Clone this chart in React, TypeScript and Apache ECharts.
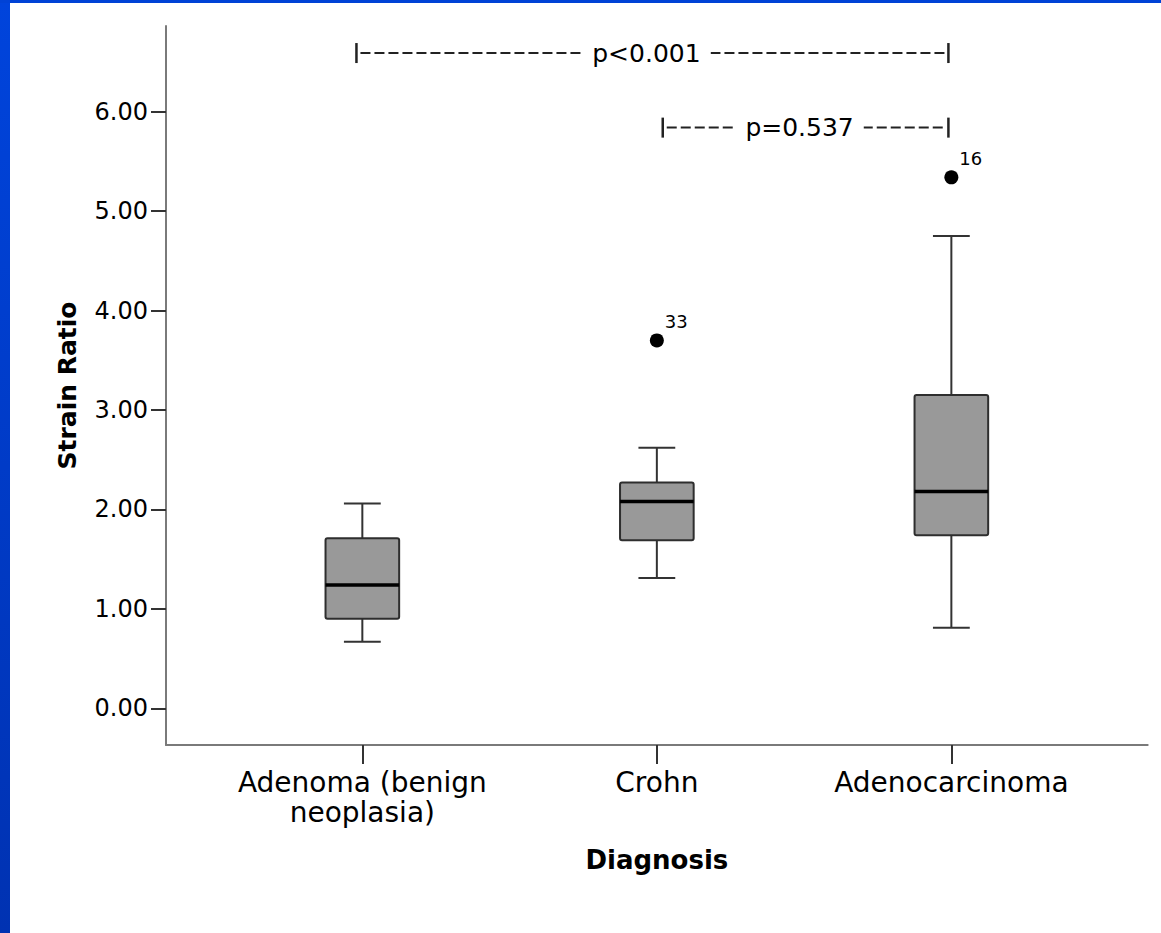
import React, { useEffect, useRef } from 'react';
import * as echarts from 'echarts';

// ---- data ----
const categories = ['Adenoma (benign\nneoplasia)', 'Crohn', 'Adenocarcinoma'];
const whiskerLow = [0.67, 1.31, 0.81];
const q1 = [0.9, 1.69, 1.74];
const median = [1.24, 2.08, 2.18];
const q3 = [1.71, 2.27, 3.15];
const whiskerHigh = [2.06, 2.62, 4.75];

const outlierCategory = [1, 2];
const outlierValue = [3.7, 5.34];
const outlierCase = ['33', '16'];

const yTicks = [0, 1, 2, 3, 4, 5, 6];
const xTicks = [0, 1, 2];

const comparisonFrom = [-0.02, 1.02];
const comparisonTo = [1.99, 1.99];
const comparisonLevel = [6.59, 5.84];
const comparisonLabel = ['p<0.001', 'p=0.537'];

const FONT = 'DejaVu Sans';

export default function App() {
  const ref = useRef<HTMLDivElement>(null);

  useEffect(() => {
    document.body.style.margin = '0';
    const chart = echarts.init(ref.current as HTMLDivElement, null, { renderer: 'svg' });

    const boxData = categories.map((_, i) => [i, whiskerLow[i], q1[i], median[i], q3[i], whiskerHigh[i]]);
    const bracketData = comparisonLabel.map((_, i) => [comparisonFrom[i], comparisonTo[i], comparisonLevel[i], i]);
    const outlierData = outlierCategory.map((c, i) => [c, outlierValue[i], outlierCase[i]]);

    const option: any = {
      animation: false,
      backgroundColor: '#ffffff',
      graphic: [
        {
          type: 'rect',
          shape: { x: 0, y: 0, width: 10, height: 933 },
          style: {
            fill: {
              type: 'linear', x: 0, y: 0, x2: 0, y2: 1,
              colorStops: [
                { offset: 0, color: '#0044dc' },
                { offset: 1, color: '#0032b2' },
              ],
            },
          },
          silent: true,
        },
        {
          type: 'rect',
          shape: { x: 0, y: 0, width: 1161, height: 3 },
          style: { fill: '#0042d6' },
          silent: true,
        },
      ],
      grid: { left: 166, top: 26, right: 13.3, bottom: 188, containLabel: false },
      xAxis: {
        type: 'value',
        min: -2 / 3,
        max: 8 / 3,
        name: 'Diagnosis',
        nameLocation: 'middle',
        nameGap: 102,
        nameTextStyle: { fontFamily: FONT, fontSize: 26, fontWeight: 'bold', color: '#000' },
        axisLine: { show: true, onZero: false, lineStyle: { color: '#7a7a7a', width: 2 } },
        axisTick: { show: true, length: 19, customValues: xTicks, lineStyle: { color: '#333', width: 2 } },
        axisLabel: {
          customValues: xTicks,
          formatter: (v: number) => categories[Math.round(v)] ?? '',
          margin: 22,
          fontFamily: FONT,
          fontSize: 28,
          lineHeight: 30,
          color: '#000',
          align: 'center',
        },
        splitLine: { show: false },
      },
      yAxis: {
        type: 'value',
        min: -0.369,
        max: 6.862,
        name: 'Strain Ratio',
        nameLocation: 'middle',
        nameGap: 86,
        nameRotate: 90,
        nameTextStyle: { fontFamily: FONT, fontSize: 25, fontWeight: 'bold', color: '#000' },
        axisLine: { show: true, onZero: false, lineStyle: { color: '#7a7a7a', width: 2 } },
        axisTick: { show: true, length: 15, customValues: yTicks, lineStyle: { color: '#333', width: 2 } },
        axisLabel: {
          customValues: yTicks,
          formatter: (v: number) => v.toFixed(2),
          margin: 18,
          fontFamily: FONT,
          fontSize: 24,
          color: '#000',
        },
        splitLine: { show: false },
      },
      series: [
        {
          type: 'custom',
          data: boxData,
          encode: { x: 0, y: [1, 2, 3, 4, 5] },
          clip: false,
          renderItem: (params: any, api: any) => {
            const x = api.value(0);
            const pLow = api.coord([x, api.value(1)]);
            const pQ1 = api.coord([x, api.value(2)]);
            const pMed = api.coord([x, api.value(3)]);
            const pQ3 = api.coord([x, api.value(4)]);
            const pHigh = api.coord([x, api.value(5)]);
            const cx = pLow[0];
            const halfW = api.size([0.25, 0])[0] / 2;
            const capHalf = halfW / 2;
            const wStyle = { stroke: '#333', lineWidth: 2 };
            return {
              type: 'group',
              children: [
                { type: 'line', shape: { x1: cx, y1: pLow[1], x2: cx, y2: pQ1[1] }, style: wStyle },
                { type: 'line', shape: { x1: cx - capHalf, y1: pLow[1], x2: cx + capHalf, y2: pLow[1] }, style: wStyle },
                { type: 'line', shape: { x1: cx, y1: pHigh[1], x2: cx, y2: pQ3[1] }, style: wStyle },
                { type: 'line', shape: { x1: cx - capHalf, y1: pHigh[1], x2: cx + capHalf, y2: pHigh[1] }, style: wStyle },
                {
                  type: 'rect',
                  shape: { x: cx - halfW, y: pQ3[1], width: halfW * 2, height: pQ1[1] - pQ3[1], r: 2 },
                  style: { fill: '#999999', stroke: '#2e2e2e', lineWidth: 2 },
                },
                {
                  type: 'line',
                  shape: { x1: cx - halfW, y1: pMed[1], x2: cx + halfW, y2: pMed[1] },
                  style: { stroke: '#000', lineWidth: 3.5 },
                },
              ],
            };
          },
        },
        {
          type: 'scatter',
          data: outlierData,
          symbol: 'circle',
          symbolSize: 14,
          itemStyle: { color: '#000', opacity: 1 },
          label: {
            show: true,
            formatter: (p: any) => p.value[2],
            position: [15, -12],
            align: 'left',
            verticalAlign: 'middle',
            fontFamily: FONT,
            fontSize: 18,
            color: '#000',
          },
        },
        {
          type: 'custom',
          data: bracketData,
          encode: { x: [0, 1], y: 2 },
          clip: false,
          renderItem: (params: any, api: any) => {
            const y = api.value(2);
            const p1 = api.coord([api.value(0), y]);
            const p2 = api.coord([api.value(1), y]);
            const label = comparisonLabel[api.value(3)];
            const barStyle = { stroke: '#222', lineWidth: 2.5 };
            return {
              type: 'group',
              children: [
                {
                  type: 'line',
                  shape: { x1: p1[0] + 4, y1: p1[1], x2: p2[0] - 3, y2: p2[1] },
                  style: { stroke: '#222', lineWidth: 2, lineDash: [10, 4] },
                },
                { type: 'line', shape: { x1: p1[0], y1: p1[1] - 10, x2: p1[0], y2: p1[1] + 10 }, style: barStyle },
                { type: 'line', shape: { x1: p2[0], y1: p2[1] - 10, x2: p2[0], y2: p2[1] + 10 }, style: barStyle },
                {
                  type: 'text',
                  x: (p1[0] + p2[0]) / 2 - 6,
                  y: p1[1],
                  style: {
                    text: label,
                    fill: '#000',
                    font: `25px "${FONT}"`,
                    align: 'center',
                    verticalAlign: 'middle',
                    backgroundColor: '#ffffff',
                    padding: [2, 10],
                  },
                },
              ],
            };
          },
        },
      ],
    };

    chart.setOption(option);
    return () => chart.dispose();
  }, []);

  return (
    <div style={{ position: 'fixed', left: 0, top: 0, width: 1161, height: 933, background: '#fff' }}>
      <div ref={ref} style={{ width: 1161, height: 933 }} />
    </div>
  );
}
